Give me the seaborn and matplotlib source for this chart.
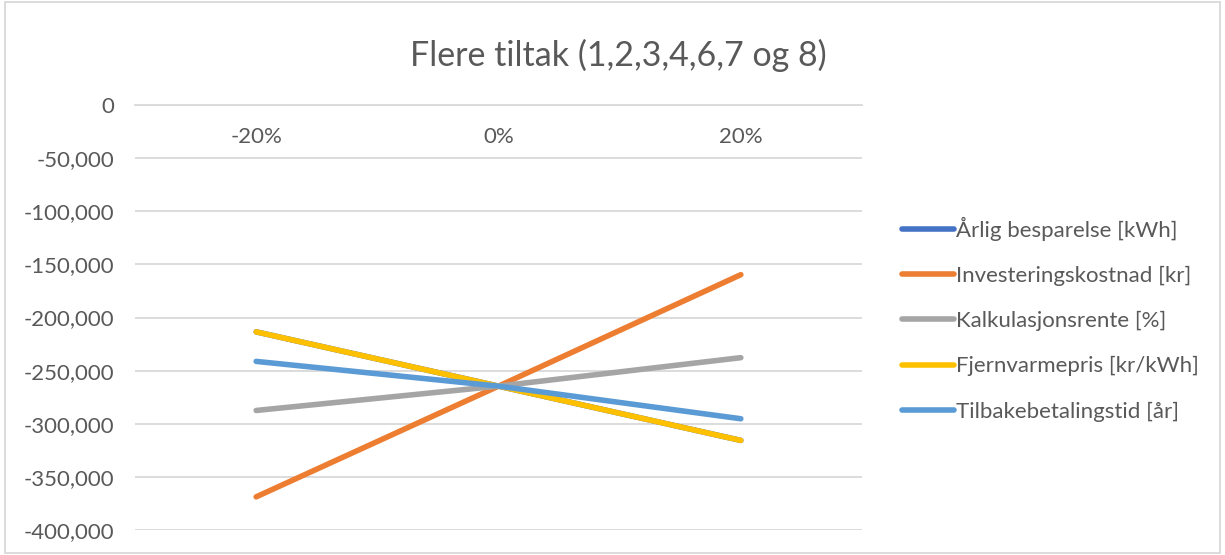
import pandas as pd
import matplotlib.pyplot as plt
import matplotlib.ticker as mticker
import seaborn as sns

# Sensitivity data
categories = ['-20%', '0%', '20%']
series_names = ['Årlig besparelse [kWh]', 'Investeringskostnad [kr]', 'Kalkulasjonsrente [%]',
                'Fjernvarmepris [kr/kWh]', 'Tilbakebetalingstid [år]']
arlig_besparelse = [-213500, -264600, -315700]
investeringskostnad = [-368800, -264600, -159700]
kalkulasjonsrente = [-287500, -264600, -237800]
fjernvarmepris = [-213500, -264600, -315700]
tilbakebetalingstid = [-241300, -264600, -295300]
colors = ['#4472C4', '#ED7D31', '#A5A5A5', '#FFC000', '#5B9BD5']

# Long-form table for seaborn
rows = []
for name, vals in zip(series_names, [arlig_besparelse, investeringskostnad, kalkulasjonsrente,
                                     fjernvarmepris, tilbakebetalingstid]):
    for i, v in enumerate(vals):
        rows.append({'pos': i, 'value': v, 'series': name})
df = pd.DataFrame(rows)

sns.set_style('white')
plt.rcParams['font.family'] = ['Lato', 'DejaVu Sans']

fig = plt.figure(figsize=(12.25, 5.55), dpi=100)
ax = fig.add_axes([135 / 1225, 1 - 530 / 555, 727 / 1225, 425 / 555])

sns.lineplot(data=df, x='pos', y='value', hue='series', hue_order=series_names,
             palette=dict(zip(series_names, colors)), linewidth=4,
             solid_capstyle='round', ax=ax, legend=True)

ax.set_xlim(-0.5, len(categories) - 0.5)
ax.set_ylim(-400000, 0)
ax.set_yticks(range(-400000, 1, 50000))
ax.yaxis.set_major_formatter(mticker.FuncFormatter(lambda v, p: f'{int(v):,}'))
ax.set_xticks(range(len(categories)))
ax.set_xticklabels(categories)
ax.set_xlabel('')
ax.set_ylabel('')

grid_color = '#D9D9D9'
ax.grid(axis='y', color=grid_color, linewidth=1.3)
ax.set_axisbelow(True)
for s in ['top', 'left', 'right']:
    ax.spines[s].set_visible(False)
ax.spines['bottom'].set_position(('data', 0))
ax.spines['bottom'].set_color(grid_color)
ax.spines['bottom'].set_linewidth(1.3)
ax.tick_params(axis='y', length=0, pad=15, labelsize=16, labelcolor='#595959')
ax.tick_params(axis='x', length=0, pad=16, labelsize=16, labelcolor='#595959')

fig.text(618 / 1225, 1 - 55 / 555, 'Flere tiltak (1,2,3,4,6,7 og 8)', fontsize=24.5,
         color='#595959', ha='center', va='center')

handles, labels = ax.get_legend_handles_labels()
ax.get_legend().remove()
fig.legend(handles, labels, loc='center left', bbox_to_anchor=(882 / 1225, 1 - 319 / 555),
           frameon=False, fontsize=16, labelcolor='#595959', handlelength=2.35,
           handletextpad=0.1, labelspacing=1.13)

# Light chart border
fig.patches.append(plt.Rectangle((0.004, 0.004), 0.992, 0.992, transform=fig.transFigure,
                                 fill=False, edgecolor=grid_color, linewidth=1.3))

fig.savefig('out.png', dpi=100)
